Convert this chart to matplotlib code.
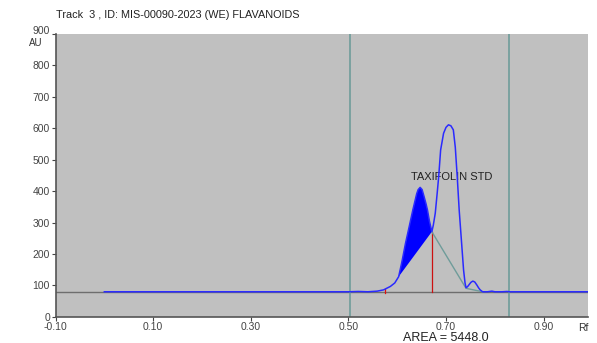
import matplotlib
matplotlib.use('agg')
import matplotlib.pyplot as plt
import matplotlib.transforms as mtransforms
import numpy as np

plt.rcParams['font.family'] = ['Liberation Sans', 'DejaVu Sans']

# ---- data
rf = [0.00, 0.10, 0.30, 0.50, 0.52, 0.54, 0.559, 0.572, 0.586, 0.595, 0.603,
      0.610, 0.617, 0.625, 0.632, 0.640, 0.643, 0.647, 0.651, 0.655, 0.659,
      0.662, 0.666, 0.671, 0.674, 0.678, 0.682, 0.685, 0.689, 0.695, 0.700,
      0.705, 0.710, 0.715, 0.719, 0.723, 0.727, 0.732, 0.736,
      0.739, 0.741, 0.744, 0.748, 0.751, 0.755, 0.759, 0.763, 0.767, 0.770,
      0.775, 0.785, 0.794, 0.800, 0.815, 0.825, 0.830, 0.99]
au = [80, 80, 80, 80, 81, 80, 82, 86, 97, 108, 128,
      178, 234, 290, 340, 392, 405, 412, 405, 383, 360,
      340, 305, 271, 292, 330, 395, 446, 531, 584, 603,
      611, 608, 595, 540, 446, 340, 234, 149,
      108, 93, 96, 104, 110, 114, 111, 102, 92, 86,
      80, 80, 82, 80, 80, 81, 80, 80]

baseline = 80
peak_start, peak_end = 0.603, 0.671     # shaded integration window
valley = (0.671, 271)
tail_base = [(0.671, 271), (0.741, 91), (0.775, 80)]
track_lines = [0.503, 0.829]
xticks = [-0.10, 0.10, 0.30, 0.50, 0.70, 0.90]
yticks = [0, 100, 200, 300, 400, 500, 600, 700, 800, 900]
title = 'Track  3 , ID: MIS-00090-2023 (WE) FLAVANOIDS'
peak_name = 'TAXIFOLIN STD'
area_txt = 'AREA = 5448.0'

rf = np.array(rf)
au = np.array(au)

fig = plt.figure(figsize=(5.97, 3.43), dpi=100)
ax = fig.add_axes([0.093, 0.076, 0.892, 0.825])
ax.set_facecolor('#c0c0c0')

ax.axhline(baseline, color='#6e6e6e', lw=1.0, zorder=2)
for xv in track_lines:
    ax.axvline(xv, color='#6f9c9a', lw=1.2, zorder=2)

# shaded peak (polygon closes along the chord)
sel = (rf >= peak_start) & (rf <= peak_end)
ax.fill(rf[sel], au[sel], color='#0000ff', lw=0, zorder=3)

# drop line and tangent skim baseline
ax.plot([valley[0], valley[0]], [baseline, valley[1]], color='#cc1111', lw=0.9, zorder=4)
ax.plot([0.575, 0.575], [baseline - 4, baseline + 8], color='#dd1111', lw=0.9, zorder=4)
ax.plot([p[0] for p in tail_base], [p[1] for p in tail_base], color='#6f9c9a', lw=1.0, zorder=4)

ax.plot(rf, au, color='#2a2aff', lw=1.1, zorder=5)

ax.text(0.711, 445, peak_name, fontsize=8, color='#222222', ha='center', va='center')

ax.set_xlim(-0.10, 0.991)
ax.set_ylim(0, 900)
ax.set_xticks(xticks)
ax.set_xticklabels(['%.2f' % t for t in xticks])
ax.set_yticks(yticks)
ax.tick_params(labelsize=7.5, length=3, width=0.8, colors='#444444', pad=1)
# top label sits a bit higher so the unit fits below it
top_lbl = ax.get_yticklabels()[-1]
top_lbl.set_transform(top_lbl.get_transform() +
                      mtransforms.ScaledTranslation(0, 3 / 72, fig.dpi_scale_trans))
for s in ['top', 'right']:
    ax.spines[s].set_visible(False)
for s in ['left', 'bottom']:
    ax.spines[s].set_color('#555555')
    ax.spines[s].set_linewidth(1.2)

fig.text(0.093, 0.955, title, fontsize=7.8, color='#222222', ha='left', va='center')
fig.text(0.072, 0.874, 'AU', fontsize=7, color='#333333', ha='right', va='center')
fig.text(0.985, 0.045, 'Rf', fontsize=7.5, color='#333333', ha='right', va='center')
fig.text(0.747, 0.015, area_txt, fontsize=9, color='#222222', ha='center', va='center')

plt.savefig('out.png', dpi=100)
